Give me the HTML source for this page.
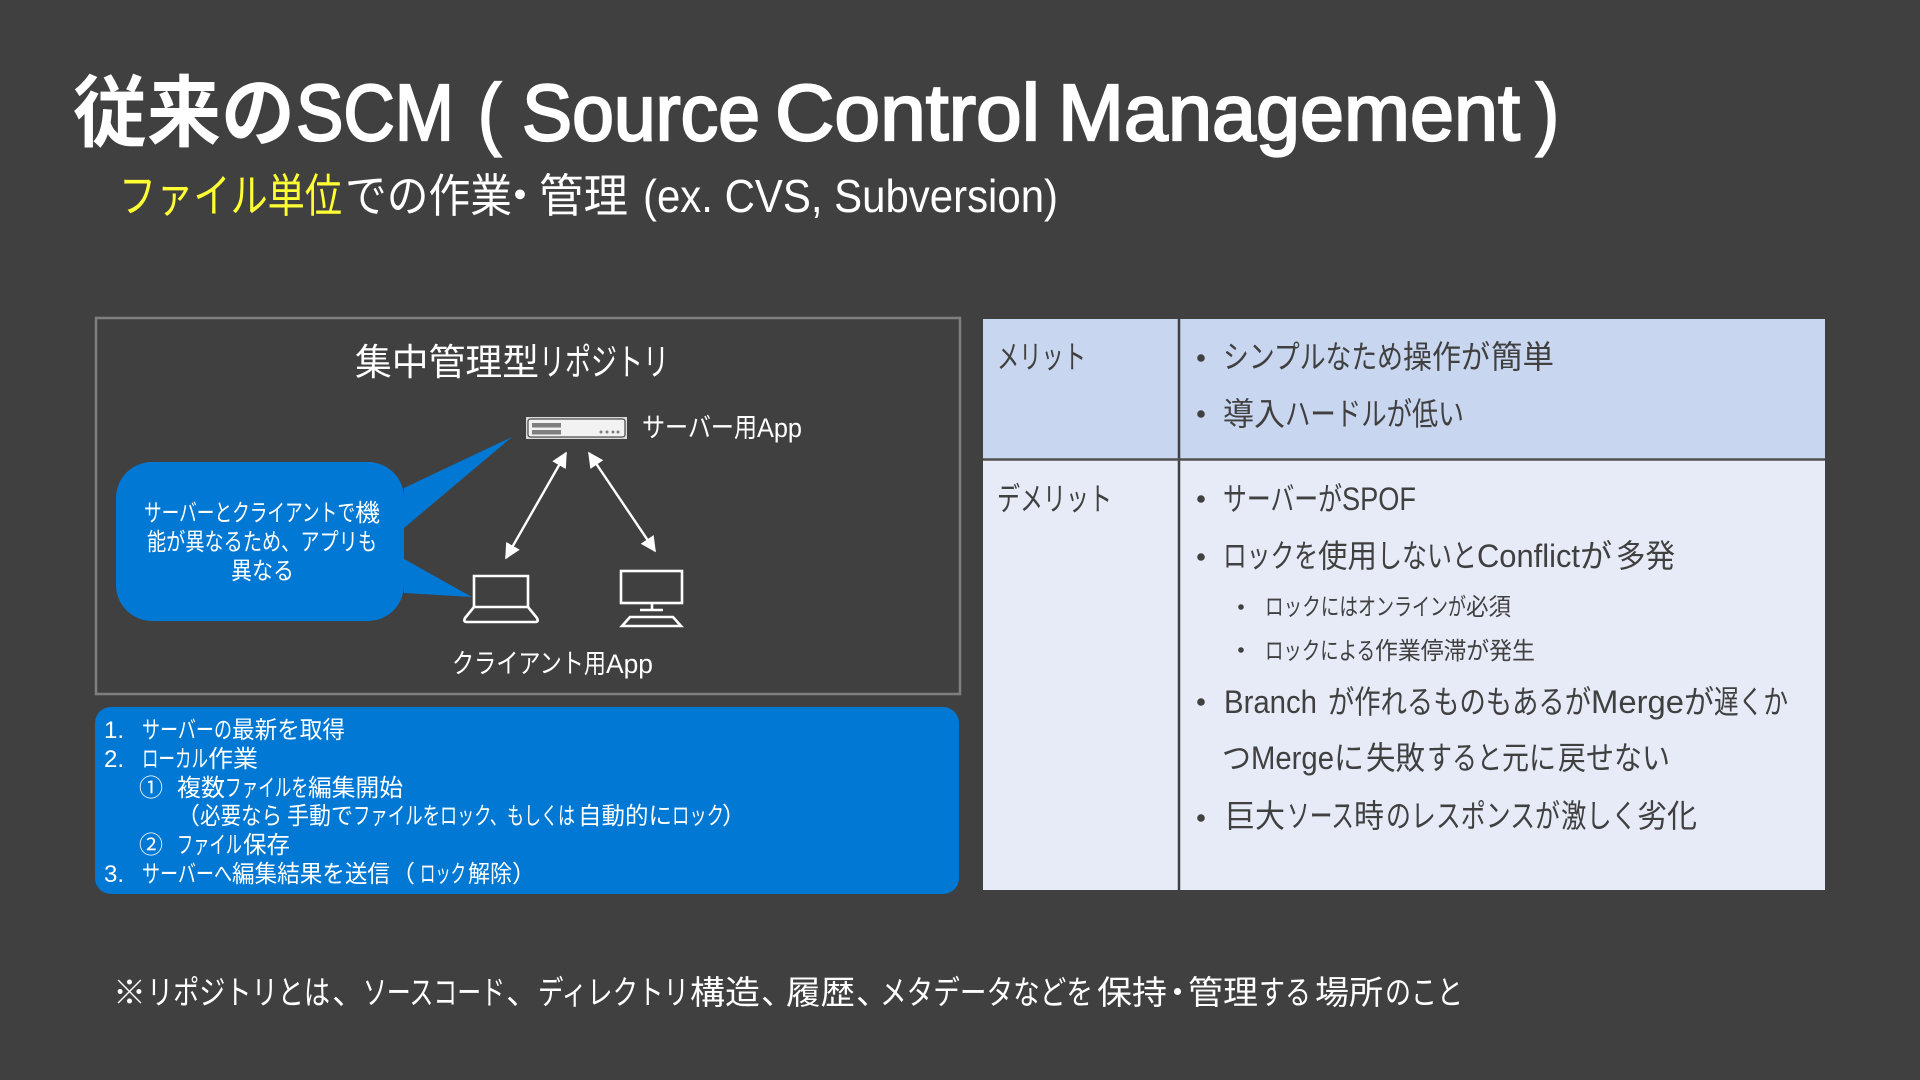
<!DOCTYPE html>
<html lang="ja"><head><meta charset="utf-8"><title>従来のSCM</title>
<style>
html,body{margin:0;padding:0;background:#404040;width:1920px;height:1080px;overflow:hidden}
svg{display:block}
text{font-family:"Liberation Sans","Noto Sans CJK JP",sans-serif;fill:#fff}
.d text{fill:#404040}
.l text{stroke:#fff;stroke-width:2.2px}
</style></head><body>
<svg width="1920" height="1080" viewBox="0 0 1920 1080" xmlns="http://www.w3.org/2000/svg">
<defs><marker id="a" viewBox="0 0 10 10" refX="9" refY="5" markerWidth="6.5" markerHeight="6.5" orient="auto-start-reverse"><path d="M0 0L10 5L0 10Z" fill="#fff"/></marker></defs>
<rect width="1920" height="1080" fill="#404040"/>

<text x="73" y="140" font-size="78" font-weight="700" textLength="222" lengthAdjust="spacingAndGlyphs">従来の</text>
<g class="l" font-size="80">
<text x="296" y="140" textLength="158" lengthAdjust="spacingAndGlyphs">SCM</text>
<text x="478" y="140" textLength="23" lengthAdjust="spacingAndGlyphs">(</text>
<text x="522" y="140" textLength="238" lengthAdjust="spacingAndGlyphs">Source</text>
<text x="775" y="140" textLength="265" lengthAdjust="spacingAndGlyphs">Control</text>
<text x="1058" y="140" textLength="462" lengthAdjust="spacingAndGlyphs">Management</text>
<text x="1536" y="140" textLength="23" lengthAdjust="spacingAndGlyphs">)</text>
</g>

<g font-size="46">
<text x="119" y="212" textLength="223" lengthAdjust="spacingAndGlyphs" style="fill:#ffff33">ファイル単位</text>
<text x="345" y="212" textLength="167" lengthAdjust="spacingAndGlyphs">での作業</text>
<text x="497" y="212">・</text>
<text x="539" y="212" textLength="89" lengthAdjust="spacingAndGlyphs">管理</text>
<text x="643" y="212" textLength="415" lengthAdjust="spacingAndGlyphs">(ex. CVS, Subversion)</text>
</g>

<rect x="96" y="318" width="864" height="376" fill="none" stroke="#7f7f7f" stroke-width="2.5"/>
<g font-size="37">
<text x="355" y="375" textLength="184" lengthAdjust="spacingAndGlyphs">集中管理型</text>
<text x="539" y="375" textLength="130" lengthAdjust="spacingAndGlyphs">リポジトリ</text>
</g>

<rect x="116" y="462" width="288" height="159" rx="36" fill="#0078d4"/>
<path d="M404 488L512 437L404 528ZM404 559L472 597L404 593Z" fill="#0078d4"/>
<g font-size="24">
<text x="144" y="521" textLength="211" lengthAdjust="spacingAndGlyphs">サーバーとクライアントで</text>
<text x="355" y="521" textLength="25" lengthAdjust="spacingAndGlyphs">機</text>
<text x="147" y="550" textLength="230" lengthAdjust="spacingAndGlyphs">能が異なるため、アプリも</text>
<text x="231" y="579" textLength="63" lengthAdjust="spacingAndGlyphs">異なる</text>
</g>

<rect x="526" y="417" width="101" height="22" fill="#d9d9d9"/>
<rect x="528" y="419" width="97" height="18" rx="2.5" fill="#f2f2f2" stroke="#262626" stroke-width="1"/>
<rect x="532" y="423" width="29" height="4.5" fill="#7f7f7f"/><rect x="532" y="430" width="29" height="4.5" fill="#7f7f7f"/>
<g fill="#7f7f7f"><circle cx="601" cy="432" r="1.5"/><circle cx="607" cy="432" r="1.5"/><circle cx="613" cy="432" r="1.5"/><circle cx="618" cy="432" r="1.5"/></g>
<g font-size="27">
<text x="642" y="437" textLength="115" lengthAdjust="spacingAndGlyphs">サーバー用</text>
<text x="757" y="437" textLength="45" lengthAdjust="spacingAndGlyphs">App</text>
</g>

<line x1="566" y1="453" x2="506" y2="558" stroke="#fff" stroke-width="2.4" marker-start="url(#a)" marker-end="url(#a)"/>
<line x1="589" y1="453" x2="655" y2="551" stroke="#fff" stroke-width="2.4" marker-start="url(#a)" marker-end="url(#a)"/>

<g fill="none" stroke="#fff" stroke-width="2.6">
<path d="M474 607V576H528V607"/>
<path d="M474 607H528L537 618Q539 622 535 622H467Q463 622 465 618Z"/>
<rect x="621" y="571" width="61" height="32"/>
<path d="M652 603V609M640 610H663M630 617H673L681 626H622Z"/>
</g>
<g font-size="27">
<text x="452" y="673" textLength="154" lengthAdjust="spacingAndGlyphs">クライアント用</text>
<text x="606" y="673" textLength="47" lengthAdjust="spacingAndGlyphs">App</text>
</g>

<rect x="95" y="707" width="864" height="187" rx="16" fill="#0078d4"/>
<g font-size="24">
<text x="104" y="738">1.</text>
<text x="142" y="738" textLength="90" lengthAdjust="spacingAndGlyphs">サーバーの</text>
<text x="232" y="738" textLength="113" lengthAdjust="spacingAndGlyphs">最新を取得</text>
<text x="104" y="767">2.</text>
<text x="142" y="767" textLength="66" lengthAdjust="spacingAndGlyphs">ローカル</text>
<text x="208" y="767" textLength="50" lengthAdjust="spacingAndGlyphs">作業</text>
<text x="139" y="796">①</text>
<text x="177" y="796" textLength="48" lengthAdjust="spacingAndGlyphs">複数</text>
<text x="225" y="796" textLength="83" lengthAdjust="spacingAndGlyphs">ファイルを</text>
<text x="308" y="796" textLength="95" lengthAdjust="spacingAndGlyphs">編集開始</text>
<text x="176" y="824">（</text>
<text x="200" y="824" textLength="82" lengthAdjust="spacingAndGlyphs">必要なら</text>
<text x="287" y="824" textLength="66" lengthAdjust="spacingAndGlyphs">手動で</text>
<text x="353" y="824" textLength="87" lengthAdjust="spacingAndGlyphs">ファイルを</text>
<text x="440" y="824" textLength="67" lengthAdjust="spacingAndGlyphs">ロック、</text>
<text x="507" y="824" textLength="68" lengthAdjust="spacingAndGlyphs">もしくは</text>
<text x="578" y="824" textLength="94" lengthAdjust="spacingAndGlyphs">自動的に</text>
<text x="672" y="824" textLength="52" lengthAdjust="spacingAndGlyphs">ロック</text>
<text x="722" y="824">）</text>
<text x="139" y="853">②</text>
<text x="177" y="853" textLength="65" lengthAdjust="spacingAndGlyphs">ファイル</text>
<text x="243" y="853" textLength="47" lengthAdjust="spacingAndGlyphs">保存</text>
<text x="104" y="882">3.</text>
<text x="142" y="882" textLength="90" lengthAdjust="spacingAndGlyphs">サーバーへ</text>
<text x="232" y="882" textLength="158" lengthAdjust="spacingAndGlyphs">編集結果を送信</text>
<text x="391" y="882">（</text>
<text x="420" y="882" textLength="46" lengthAdjust="spacingAndGlyphs">ロック</text>
<text x="468" y="882" textLength="44" lengthAdjust="spacingAndGlyphs">解除</text>
<text x="512" y="882">）</text>
</g>

<rect x="983" y="319" width="842" height="140" fill="#c9d6f0"/>
<rect x="983" y="459" width="842" height="431" fill="#e6ebf7"/>
<path d="M1179 319V890" stroke="#404040" stroke-width="2.5"/>
<path d="M983 459.5H1825" stroke="#505050" stroke-width="2.5"/>

<g class="d" font-size="32">
<text x="997" y="368" textLength="89" lengthAdjust="spacingAndGlyphs">メリット</text>
<text x="997" y="510" textLength="115" lengthAdjust="spacingAndGlyphs">デメリット</text>

<text x="1223" y="368" textLength="180" lengthAdjust="spacingAndGlyphs">シンプルなため</text>
<text x="1403" y="368" textLength="87" lengthAdjust="spacingAndGlyphs">操作が</text>
<text x="1491" y="368" textLength="63" lengthAdjust="spacingAndGlyphs">簡単</text>

<text x="1223" y="425" textLength="62" lengthAdjust="spacingAndGlyphs">導入</text>
<text x="1285" y="425" textLength="127" lengthAdjust="spacingAndGlyphs">ハードルが</text>
<text x="1412" y="425" textLength="52" lengthAdjust="spacingAndGlyphs">低い</text>

<text x="1223" y="510" textLength="119" lengthAdjust="spacingAndGlyphs">サーバーが</text>
<text x="1342" y="510" textLength="74" lengthAdjust="spacingAndGlyphs">SPOF</text>

<text x="1223" y="567" textLength="95" lengthAdjust="spacingAndGlyphs">ロックを</text>
<text x="1318" y="567" textLength="59" lengthAdjust="spacingAndGlyphs">使用</text>
<text x="1377" y="567" textLength="100" lengthAdjust="spacingAndGlyphs">しないと</text>
<text x="1477" y="567" textLength="103" lengthAdjust="spacingAndGlyphs">Conflict</text>
<text x="1580" y="567" textLength="32" lengthAdjust="spacingAndGlyphs">が</text>
<text x="1616" y="567" textLength="59" lengthAdjust="spacingAndGlyphs">多発</text>

<text x="1224" y="713" textLength="93" lengthAdjust="spacingAndGlyphs">Branch</text>
<text x="1328" y="713" textLength="263" lengthAdjust="spacingAndGlyphs">が作れるものもあるが</text>
<text x="1591" y="713" textLength="93" lengthAdjust="spacingAndGlyphs">Merge</text>
<text x="1684" y="713" textLength="30" lengthAdjust="spacingAndGlyphs">が</text>
<text x="1714" y="713" textLength="74" lengthAdjust="spacingAndGlyphs">遅くか</text>

<text x="1222" y="769" textLength="29" lengthAdjust="spacingAndGlyphs">つ</text>
<text x="1251" y="769" textLength="83" lengthAdjust="spacingAndGlyphs">Merge</text>
<text x="1334" y="769" textLength="30" lengthAdjust="spacingAndGlyphs">に</text>
<text x="1366" y="769" textLength="59" lengthAdjust="spacingAndGlyphs">失敗</text>
<text x="1427" y="769" textLength="75" lengthAdjust="spacingAndGlyphs">すると</text>
<text x="1502" y="769" textLength="54" lengthAdjust="spacingAndGlyphs">元に</text>
<text x="1558" y="769" textLength="112" lengthAdjust="spacingAndGlyphs">戻せない</text>

<text x="1225" y="827" textLength="60" lengthAdjust="spacingAndGlyphs">巨大</text>
<text x="1287" y="827" textLength="67" lengthAdjust="spacingAndGlyphs">ソース</text>
<text x="1354" y="827" textLength="30" lengthAdjust="spacingAndGlyphs">時</text>
<text x="1386" y="827" textLength="174" lengthAdjust="spacingAndGlyphs">のレスポンスが</text>
<text x="1561" y="827" textLength="76" lengthAdjust="spacingAndGlyphs">激しく</text>
<text x="1637" y="827" textLength="60" lengthAdjust="spacingAndGlyphs">劣化</text>
</g>
<g class="d" font-size="24">
<text x="1265" y="615" textLength="93" lengthAdjust="spacingAndGlyphs">ロックには</text>
<text x="1358" y="615" textLength="108" lengthAdjust="spacingAndGlyphs">オンラインが</text>
<text x="1466" y="615" textLength="45" lengthAdjust="spacingAndGlyphs">必須</text>
<text x="1265" y="659" textLength="110" lengthAdjust="spacingAndGlyphs">ロックによる</text>
<text x="1375" y="659" textLength="160" lengthAdjust="spacingAndGlyphs">作業停滞が発生</text>
</g>
<g fill="#404040">
<circle cx="1201" cy="358" r="3.8"/><circle cx="1201" cy="414" r="3.8"/><circle cx="1201" cy="499" r="3.8"/><circle cx="1201" cy="557" r="3.8"/>
<circle cx="1201" cy="702" r="3.8"/><circle cx="1201" cy="818" r="3.8"/>
<circle cx="1241" cy="607" r="2.8"/><circle cx="1241" cy="650" r="2.8"/>
</g>

<g font-size="33">
<text x="113" y="1004" textLength="33" lengthAdjust="spacingAndGlyphs">※</text>
<text x="147" y="1004" textLength="183" lengthAdjust="spacingAndGlyphs">リポジトリとは</text>
<text x="332" y="1004">、</text>
<text x="363" y="1004" textLength="142" lengthAdjust="spacingAndGlyphs">ソースコード</text>
<text x="506" y="1004">、</text>
<text x="538" y="1004" textLength="151" lengthAdjust="spacingAndGlyphs">ディレクトリ</text>
<text x="690" y="1004" textLength="70" lengthAdjust="spacingAndGlyphs">構造</text>
<text x="761" y="1004">、</text>
<text x="786" y="1004" textLength="69" lengthAdjust="spacingAndGlyphs">履歴</text>
<text x="856" y="1004">、</text>
<text x="880" y="1004" textLength="213" lengthAdjust="spacingAndGlyphs">メタデータなどを</text>
<text x="1097" y="1004" textLength="70" lengthAdjust="spacingAndGlyphs">保持</text>
<text x="1161" y="1004">・</text>
<text x="1188" y="1004" textLength="70" lengthAdjust="spacingAndGlyphs">管理</text>
<text x="1259" y="1004" textLength="52" lengthAdjust="spacingAndGlyphs">する</text>
<text x="1315" y="1004" textLength="68" lengthAdjust="spacingAndGlyphs">場所</text>
<text x="1385" y="1004" textLength="78" lengthAdjust="spacingAndGlyphs">のこと</text>
</g>
</svg>
</body></html>
